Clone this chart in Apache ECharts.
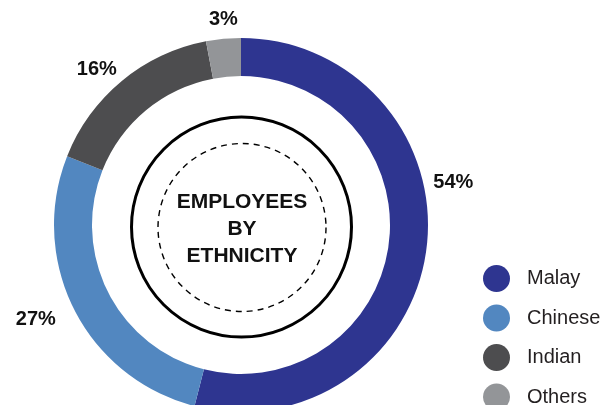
<!DOCTYPE html>
<html><head><meta charset="utf-8">
<script src="https://cdn.jsdelivr.net/npm/echarts@6/dist/echarts.min.js"></script>
<style>html,body{margin:0;padding:0;background:#fff}#c{width:611px;height:405px}</style>
</head><body><div id="c"></div>
<script>
const categories = ['Malay', 'Chinese', 'Indian', 'Others'];
const values = [54, 27, 16, 3];
const colors = ['#2e3590', '#5287c0', '#4d4d4f', '#939598'];
const centerTitle = 'EMPLOYEES\nBY\nETHNICITY';
// label nudges (style only)
const labelOffsets = [[0, -69], [-14, 0], [-6, 6], [7, 3]];

const chart = echarts.init(document.getElementById('c'));
const FONT = '"Liberation Sans", Arial, sans-serif';
chart.setOption({
  animation: false,
  color: colors,
  legend: {
    orient: 'vertical', left: 478, top: 260, height: 200,
    icon: 'circle', itemWidth: 27, itemHeight: 27, itemGap: 12.5,
    data: categories,
    textStyle: { fontFamily: FONT, fontSize: 20, color: '#231f20', padding: [0, 0, 0, 12] }
  },
  graphic: [
    { type: 'circle', shape: { cx: 241.5, cy: 227, r: 110 }, style: { fill: 'none', stroke: '#000', lineWidth: 3 }, silent: true },
    { type: 'circle', shape: { cx: 242, cy: 227.5, r: 84 }, style: { fill: 'none', stroke: '#000', lineWidth: 1.4, lineDash: [6, 5] }, silent: true },
    { type: 'text', x: 242, y: 229, style: { text: centerTitle, fontFamily: FONT, fontWeight: 'bold', fontSize: 21, lineHeight: 27, fill: '#111', align: 'center', verticalAlign: 'middle' }, silent: true }
  ],
  series: [{
    type: 'pie',
    center: [241, 225],
    radius: [149, 187],
    startAngle: 90,
    clockwise: true,
    avoidLabelOverlap: false,
    itemStyle: { borderWidth: 0 },
    label: {
      show: true, position: 'outside', formatter: '{c}%',
      fontFamily: FONT, fontWeight: 'bold', fontSize: 20, color: '#111'
    },
    labelLayout: { align: 'center', verticalAlign: 'middle' },
    labelLine: { show: false, length: 22, length2: 0 },
    emphasis: { disabled: true },
    data: categories.map((n, i) => ({
      name: n, value: values[i],
      label: { offset: labelOffsets[i] }
    }))
  }]
});
</script></body></html>
